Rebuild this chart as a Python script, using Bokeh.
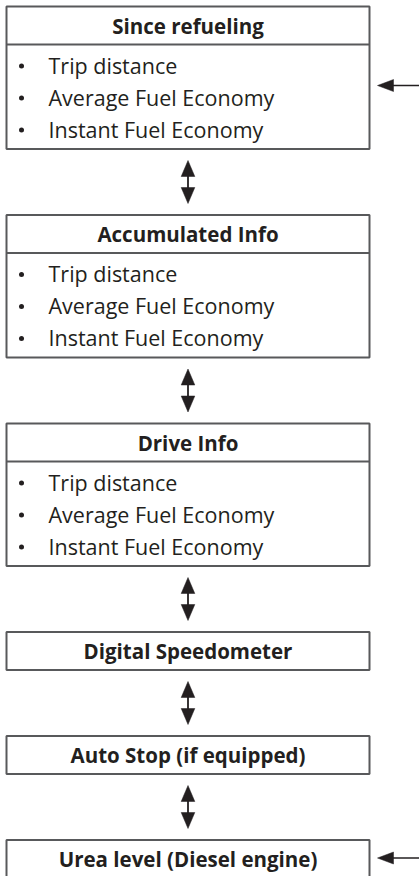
from bokeh.plotting import figure
from bokeh.models import Range1d
from bokeh.core.properties import value
from bokeh.embed import file_html
from bokeh.resources import INLINE

# ---- content ----
titles = ["Since refueling", "Accumulated Info", "Drive Info",
          "Digital Speedometer", "Auto Stop (if equipped)", "Urea level (Diesel engine)"]
items = [
    ["Trip distance", "Average Fuel Economy", "Instant Fuel Economy"],
    ["Trip distance", "Average Fuel Economy", "Instant Fuel Economy"],
    ["Trip distance", "Average Fuel Economy", "Instant Fuel Economy"],
    [], [], [],
]
side_arrow_boxes = [0, 5]   # boxes with an entry arrow from the right

# ---- layout (pixels) ----
W, H = 419, 876
BOX_L, BOX_R = 6, 369
CX = (BOX_L + BOX_R) / 2
TOP0 = 6
HEAD_H = 38
HEAD_ONLY_H = 38
LIST_BOX_H = 142.5
GAP = 66
ROW = 32
FONT = "Open Sans"
TXT = "#231f20"
LINE = "#58595b"
FS_ITEM = 21.5
FS_HEAD = 20.5

p = figure(width=W, height=H, output_backend="svg", toolbar_location=None,
           x_range=Range1d(0, W), y_range=Range1d(H, 0),
           min_border=0, outline_line_color=None)
p.axis.visible = False
p.grid.visible = False
p.background_fill_color = "white"
p.border_fill_color = "white"

tops, bottoms = [], []
y = TOP0
for t, its in zip(titles, items):
    h = LIST_BOX_H if its else HEAD_ONLY_H
    tops.append(y)
    bottoms.append(y + h)
    y += h + GAP

# boxes
p.quad(left=[BOX_L] * len(tops), right=[BOX_R] * len(tops), top=tops, bottom=bottoms,
       fill_color="white", line_color=LINE, line_width=2)
# dividers
div_y = [t + HEAD_H for t, its in zip(tops, items) if its]
p.segment(x0=[BOX_L] * len(div_y), x1=[BOX_R] * len(div_y), y0=div_y, y1=div_y,
          line_color=LINE, line_width=2)

# titles (baseline ~ top + 27.3)
p.text(x=[CX] * len(tops), y=[t + 27.3 - 0.39 * FS_HEAD for t in tops], text=titles,
       text_font=value(FONT), text_font_style="bold", text_font_size=f"{FS_HEAD}px",
       text_align="center", text_baseline="middle", text_color=TXT)

# items (baseline ~ top + 67 + row*k)
ix, iy, it = [], [], []
for t, its in zip(tops, items):
    for k, s in enumerate(its):
        ix.append(48)
        iy.append(t + 67 + ROW * k)
        it.append(s)
p.text(x=ix, y=[v - 0.39 * FS_ITEM for v in iy], text=it, text_font=value(FONT),
       text_font_size=f"{FS_ITEM}px",
       text_align="left", text_baseline="middle", text_color=TXT)
p.scatter(x=[21] * len(iy), y=[v - 7.5 for v in iy], size=5, marker="circle",
          fill_color=TXT, line_color=None)

# double arrows between boxes
HL, HW = 16, 13.6
sx0, sy0, sx1, sy1 = [], [], [], []
hx, hy = [], []
for i in range(len(tops) - 1):
    a = bottoms[i] + 11.5
    b = tops[i + 1] - 11.5
    sx0.append(CX); sx1.append(CX); sy0.append(a + HL - 2); sy1.append(b - HL + 2)
    hx.append([CX, CX - HW / 2, CX + HW / 2]); hy.append([a, a + HL, a + HL])
    hx.append([CX, CX - HW / 2, CX + HW / 2]); hy.append([b, b - HL, b - HL])
p.segment(x0=sx0, y0=sy0, x1=sx1, y1=sy1, line_color=TXT, line_width=1.8)

# side arrows
side_y = {0: tops[0] + 79, 5: tops[5] + 18}
TIP = 377
for bi in side_arrow_boxes:
    yy = side_y[bi]
    p.segment(x0=[TIP + 10], y0=[yy], x1=[W + 2], y1=[yy], line_color=TXT, line_width=1.5)
    hx.append([TIP, TIP + 16, TIP + 16]); hy.append([yy, yy - 6, yy + 6])

p.patches(xs=hx, ys=hy, fill_color=TXT, line_color=TXT, line_width=0.5)

open("out.html", "w").write(file_html(p, INLINE))
